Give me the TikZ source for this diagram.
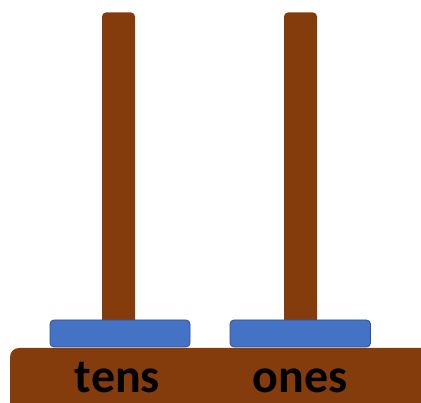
\documentclass[tikz,border=0pt]{standalone}
\usepackage{fontspec}
\setmainfont{Carlito}
\definecolor{rodbrown}{HTML}{843C0C}
\definecolor{beadblue}{HTML}{4472C4}
\definecolor{beadedge}{HTML}{2F528F}
\begin{document}
\begin{tikzpicture}[x=1pt,y=-1pt,
  rod/.style={fill=rodbrown,draw=none,rounded corners=4pt},
  bead/.style={fill=beadblue,draw=beadedge,line width=0.8pt,rounded corners=4pt},
  lbl/.style={font=\bfseries\fontsize{48}{48}\selectfont,text=black,inner sep=0pt,anchor=base}]
\useasboundingbox (0,0) rectangle (421,403);
\fill[rod] (102,12.5) rectangle (135,330);
\fill[rod] (284,12.5) rectangle (317,330);
\fill[rodbrown,rounded corners=9pt] (10,440) -- (10,348) -- (440,348) -- (440,440) -- cycle;
\draw[bead] (50,320) rectangle (190,347);
\draw[bead] (230,320) rectangle (370.5,347);
\node[lbl] (tens) at (117.5,392.5) {tens};
\node[lbl] (ones) at (300,392.5) {ones};
\end{tikzpicture}
\end{document}
